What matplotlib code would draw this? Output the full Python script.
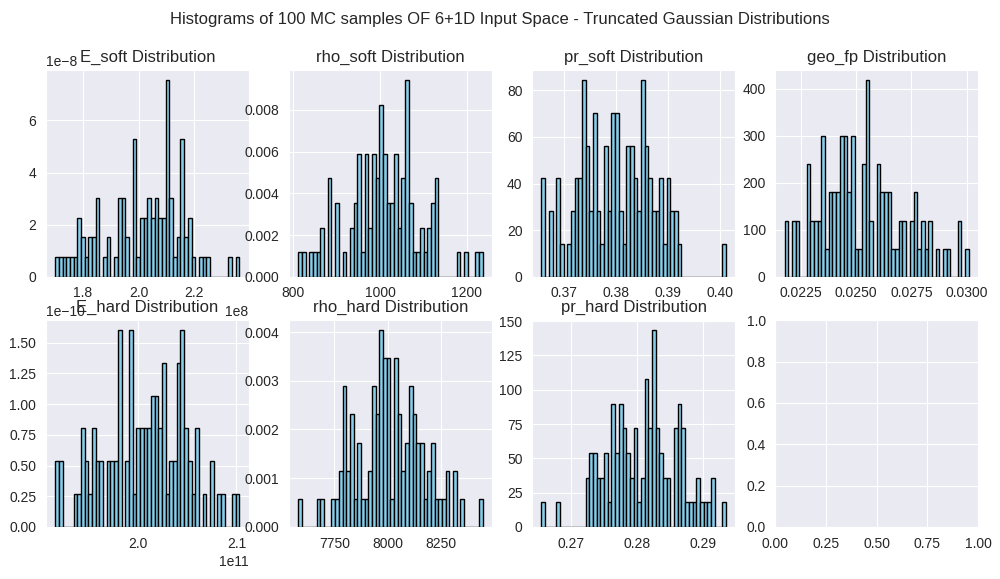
import numpy as np
import matplotlib
matplotlib.use("Agg")
import matplotlib.pyplot as plt
import seaborn as sns

# bin counts (50 bins, 100 samples), plus the sample range of each input
names = ["E_soft", "rho_soft", "pr_soft", "geo_fp", "E_hard", "rho_hard", "pr_hard"]

E_soft_counts = [1, 1, 1, 1, 1, 1, 3, 2, 1, 2,
                 2, 4, 0, 1, 2, 0, 1, 4, 4, 2,
                 0, 7, 1, 3, 3, 4, 3, 4, 3, 3,
                 10, 4, 1, 2, 7, 2, 3, 1, 0, 1,
                 1, 1, 0, 0, 0, 0, 0, 1, 0, 1]
E_soft_range = (1.700e8, 2.362e8)

rho_soft_counts = [1, 1, 0, 1, 1, 1, 2, 0, 4, 0,
                   3, 0, 1, 0, 2, 3, 5, 1, 5, 2,
                   5, 4, 7, 5, 3, 3, 5, 2, 4, 8,
                   3, 1, 1, 2, 1, 2, 3, 4, 0, 0,
                   0, 0, 0, 1, 0, 1, 0, 0, 1, 1]
rho_soft_range = (812.0, 1236.0)

pr_soft_counts = [3, 0, 2, 0, 3, 1, 0, 1, 2, 3,
                  3, 6, 4, 2, 5, 2, 1, 4, 2, 5,
                  5, 2, 1, 4, 4, 3, 2, 6, 4, 3,
                  2, 2, 3, 1, 3, 2, 2, 1, 0, 0,
                  0, 0, 0, 0, 0, 0, 0, 0, 0, 1]
pr_soft_range = (0.3656, 0.4011)

geo_fp_counts = [2, 0, 2, 2, 0, 0, 4, 2, 2, 2,
                 5, 1, 3, 3, 3, 5, 5, 3, 5, 1,
                 1, 4, 7, 2, 0, 4, 3, 3, 3, 1,
                 1, 2, 2, 0, 2, 3, 1, 2, 1, 2,
                 0, 1, 0, 1, 1, 0, 0, 2, 0, 1]
geo_fp_range = (0.02175, 0.0301)

E_hard_counts = [2, 2, 0, 0, 0, 1, 1, 3, 2, 1,
                 3, 2, 2, 0, 2, 2, 2, 6, 0, 2,
                 6, 1, 3, 3, 3, 3, 4, 4, 3, 5,
                 1, 2, 2, 5, 6, 3, 2, 1, 3, 0,
                 1, 0, 2, 0, 1, 1, 0, 0, 1, 1]
E_hard_range = (1.916e11, 2.103e11)

rho_hard_counts = [1, 0, 0, 0, 0, 1, 1, 0, 0, 1,
                   1, 2, 5, 2, 4, 1, 3, 1, 1, 2,
                   5, 4, 7, 6, 6, 1, 6, 4, 2, 3,
                   5, 4, 3, 3, 1, 2, 3, 1, 1, 1,
                   2, 0, 2, 0, 1, 0, 0, 0, 0, 1]
rho_hard_range = (7580.0, 8446.0)

pr_hard_counts = [1, 0, 0, 0, 1, 0, 0, 0, 0, 0,
                  0, 0, 2, 3, 3, 2, 2, 3, 1, 5,
                  3, 5, 4, 3, 2, 4, 1, 2, 6, 4,
                  8, 4, 3, 2, 2, 0, 4, 5, 4, 1,
                  1, 1, 2, 1, 1, 1, 2, 0, 0, 1]
pr_hard_range = (0.26555, 0.29342)

counts = [E_soft_counts, rho_soft_counts, pr_soft_counts, geo_fp_counts,
          E_hard_counts, rho_hard_counts, pr_hard_counts]
ranges = [E_soft_range, rho_soft_range, pr_soft_range, geo_fp_range,
          E_hard_range, rho_hard_range, pr_hard_range]

sns.set_style("darkgrid")
plt.rcParams['font.family'] = ['Liberation Sans', 'DejaVu Sans']

fig, axes = plt.subplots(2, 4, figsize=(10, 5.79), dpi=100)
axes = axes.flatten()

for i, name in enumerate(names):
    lo, hi = ranges[i]
    edges = np.linspace(lo, hi, 51)
    centers = 0.5 * (edges[:-1] + edges[1:])
    axes[i].hist(centers, bins=edges, weights=counts[i], density=True,
                 color='skyblue', edgecolor='black')
    # fixed y so the title sits right on the axes like the original
    axes[i].set_title(f"{name} Distribution", y=1.0)

fig.suptitle("Histograms of 100 MC samples OF 6+1D Input Space - Truncated Gaussian Distributions")
fig.subplots_adjust(left=0.046, right=0.978, top=0.879, bottom=0.09, wspace=0.2, hspace=0.21)
fig.savefig("out.png")
